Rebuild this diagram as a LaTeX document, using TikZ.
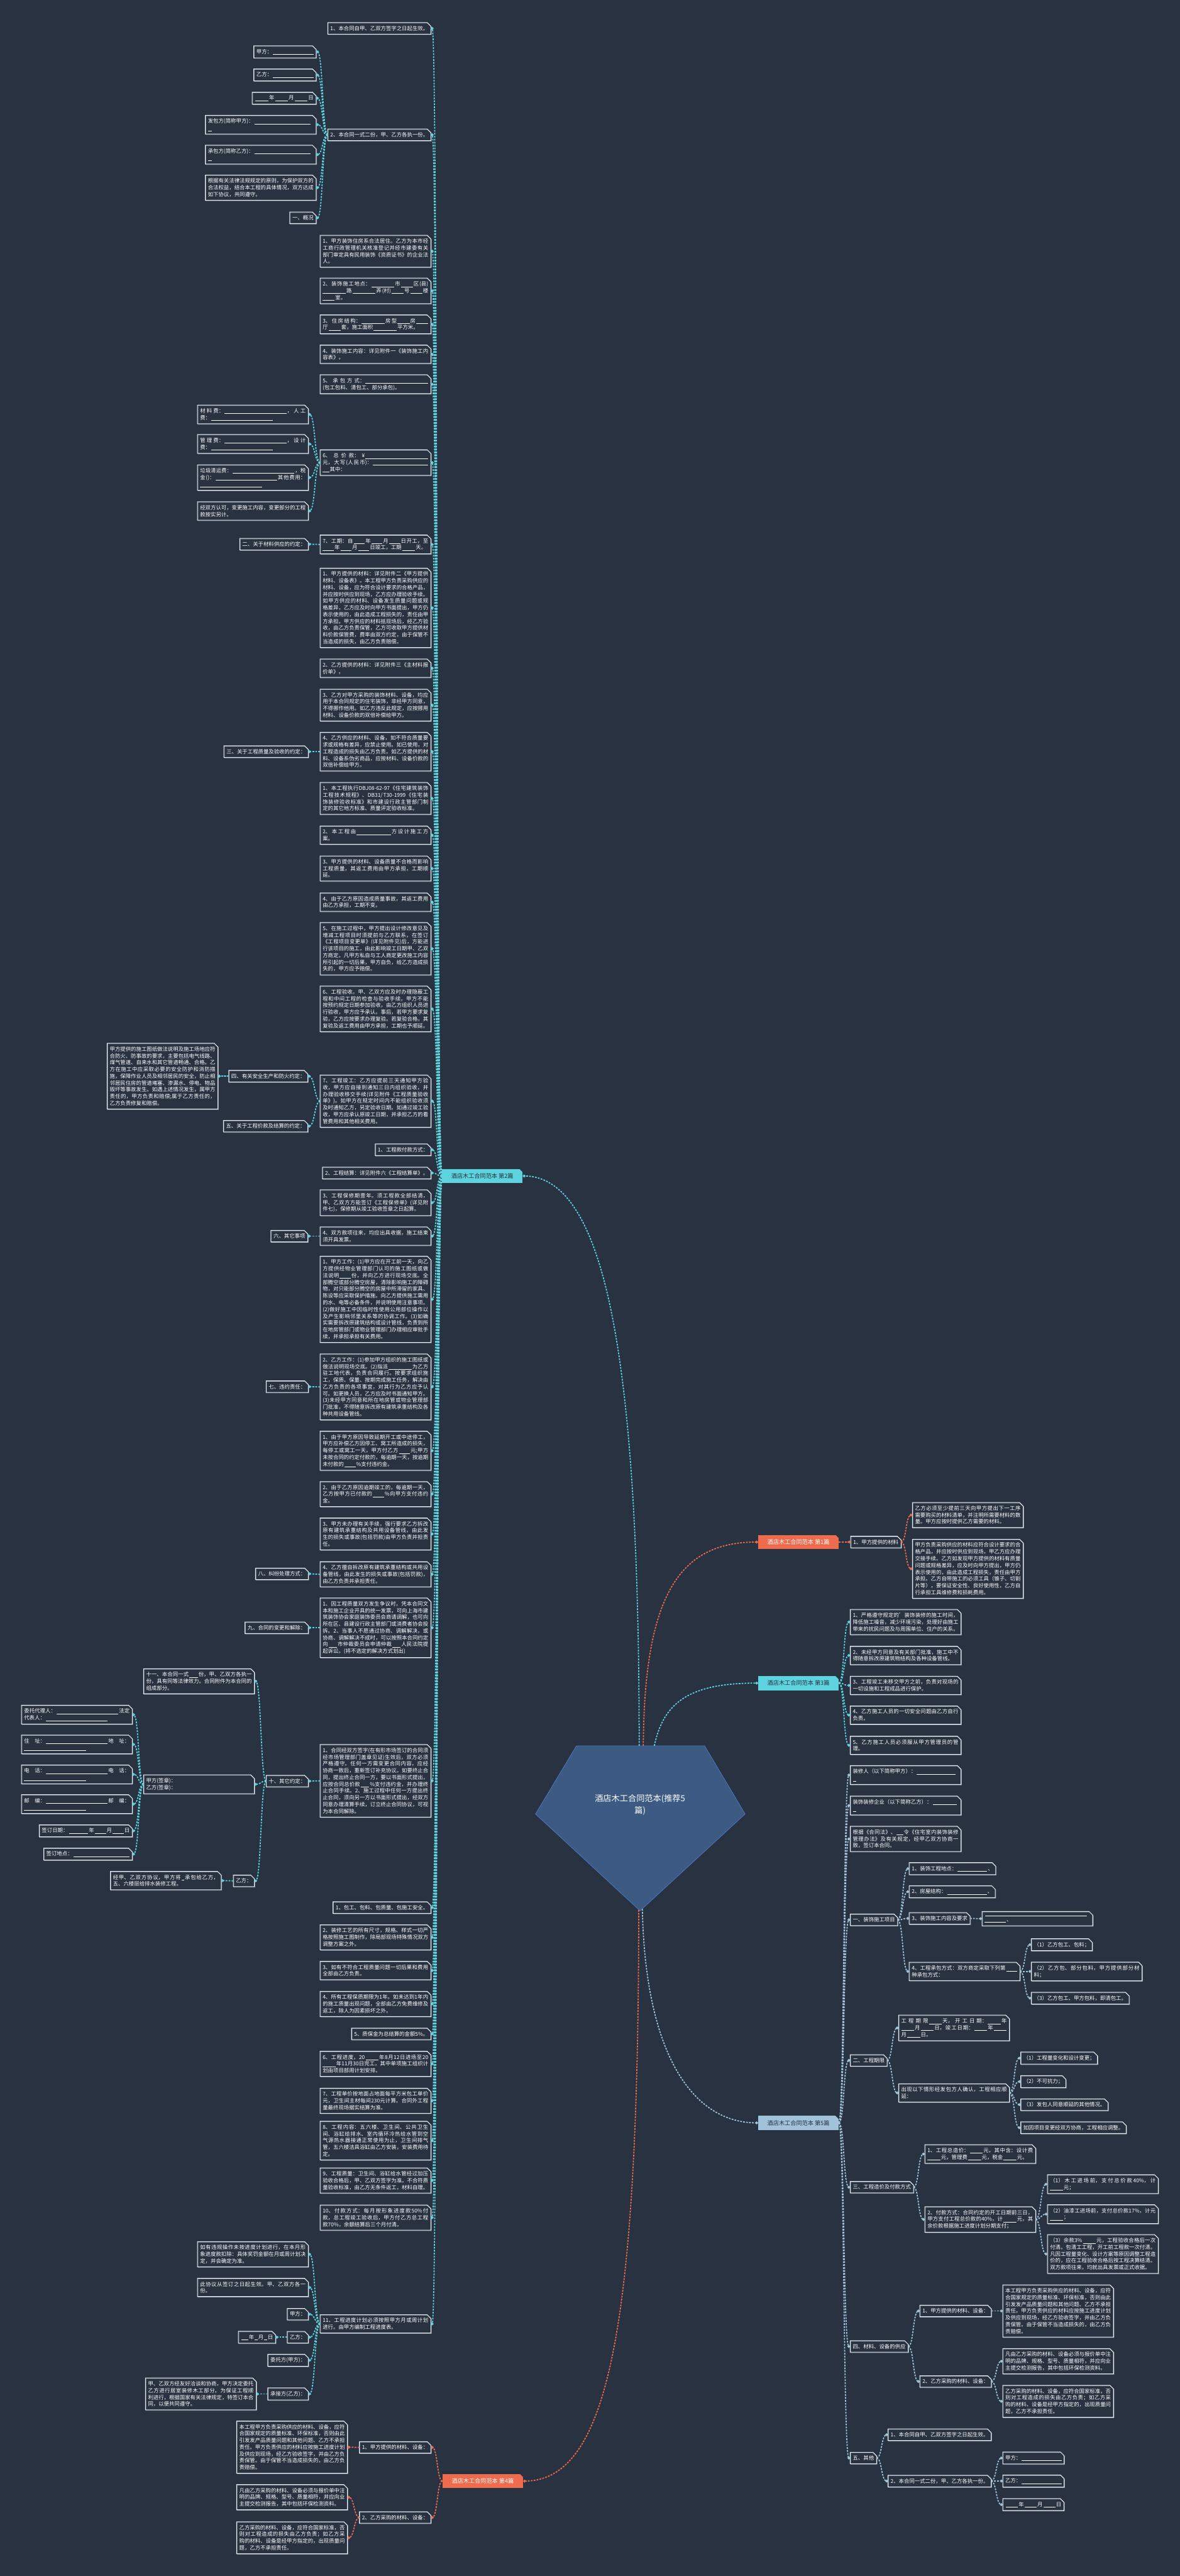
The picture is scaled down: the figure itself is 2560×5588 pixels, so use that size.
\documentclass[tikz,border=0pt]{standalone}
\usepackage{fontspec}
\setmainfont{Noto Sans CJK SC}
\XeTeXlinebreaklocale "zh"
\XeTeXlinebreakskip=0pt plus 1pt
\definecolor{bgc}{HTML}{283240}
\definecolor{cy}{HTML}{5CD3DF}
\definecolor{rd}{HTML}{EF6B4D}
\definecolor{lb}{HTML}{A0C3DA}
\definecolor{bd}{HTML}{E6EBF0}
\definecolor{sh}{HTML}{7A8593}
\definecolor{lt}{HTML}{26303C}
\definecolor{pf}{HTML}{3D5A82}
\definecolor{pb}{HTML}{4A78C8}
\newcommand\fs{\fontsize{11.45pt}{14.7pt}\selectfont}
\newcommand\bk[1]{\hspace{1.5pt}\rule[-2pt]{#1pt}{0.6pt}\hspace{1.5pt}}
\newcommand\bx[4]{%
\node[box,#2] (#1) at (#3) {#4};%
\draw[sh,line width=1.1pt,transform canvas={shift={(1.1pt,-1.1pt)}}] (#1.south west) -- (#1.north west) -- ([xshift=-8pt]#1.north east) -- ([yshift=-8pt]#1.north east) -- (#1.south east) -- cycle;%
\draw[bd,line width=1.4pt] (#1.south west) -- (#1.north west) -- ([xshift=-8pt]#1.north east) -- ([yshift=-8pt]#1.north east) -- (#1.south east) -- cycle;}
\newcommand\cc[1]{\fill[bgc] ([shift={(0.6pt,0.6pt)}]#1.north east) -- ([xshift=-8pt,yshift=0.6pt]#1.north east) -- ([xshift=0.6pt,yshift=-8pt]#1.north east) -- cycle;}
\newcommand\dm[2]{\fill[#1] (#2) ++(-3.4,0) -- ++(3.4,3.4) -- ++(3.4,-3.4) -- ++(-3.4,-3.4) -- cycle;}
\newcommand\lkL[3]{\draw[con,#1] (#2.west) .. controls +(-12,0) and +(12,0) .. ([xshift=3pt]#3.east); \dm{#1}{[xshift=3pt]#3.east}}
\newcommand\lkR[3]{\draw[con,#1] (#2.east) .. controls +(12,0) and +(-12,0) .. ([xshift=-3pt]#3.west); \dm{#1}{[xshift=-3pt]#3.west}}
\tikzset{
 box/.style={fill=bgc, text=white, font=\fs, inner xsep=5.5pt, inner ysep=7pt},
 wd/.style={text width=229pt, align=justify},
 le/.style={anchor=east},
 ri/.style={anchor=west},
 con/.style={dash pattern=on 3.8pt off 2.6pt, line width=2.4pt},
 lab/.style={anchor=west, font=\fontsize{12.5pt}{14pt}\selectfont, minimum width=175pt, minimum height=31pt, inner sep=3pt},
}
\begin{document}
\begin{tikzpicture}[x=1pt,y=-1pt]
\fill[bgc] (0,0) rectangle (2560,5588);
\useasboundingbox (0,0) rectangle (2560,5588);
% ---------- centre ----------
\coordinate (pTL) at (1251,3787);
\coordinate (pTR) at (1529,3787);
\coordinate (pR) at (1617,3935);
\coordinate (pB) at (1389,4145);
\coordinate (pL) at (1162,3935);
\draw[fill=pf, draw=pb, line width=1pt] (pTL) -- (pTR) -- (pR) -- (pB) -- (pL) -- cycle;
\node[font=\fontsize{18pt}{26pt}\selectfont, text=white, align=center] (ctr) at (1389,3915) {酒店木工合同范本(推荐5\\篇)};
\coordinate (s2) at (1387,3787);
\coordinate (s1) at (1396,3787);
\coordinate (s3) at (1420,3787);
\coordinate (s4) at (1386,4143);
\coordinate (s5) at (1394,4141);
% ---------- labels ----------
\node[lab,fill=cy,text=lt] (L2) at (959,2551) {酒店木工合同范本 第2篇}; \cc{L2}
\node[lab,fill=rd,text=white] (L1) at (1645,3345) {酒店木工合同范本 第1篇}; \cc{L1}
\node[lab,fill=cy,text=lt] (L3) at (1645,3651) {酒店木工合同范本 第3篇}; \cc{L3}
\node[lab,fill=rd,text=white] (L4) at (960,5382) {酒店木工合同范本 第4篇}; \cc{L4}
\node[lab,fill=lb,text=lt] (L5) at (1645,4605) {酒店木工合同范本 第5篇}; \cc{L5}
\draw[con,cy] (s2) .. controls (1387,2980) and (1320,2551) .. ([xshift=3pt]L2.east); \dm{cy}{[xshift=3pt]L2.east}
\draw[con,rd] (s1) .. controls (1398,3450) and (1480,3345) .. ([xshift=-3pt]L1.west); \dm{rd}{[xshift=-3pt]L1.west}
\draw[con,cy] (s3) .. controls (1440,3690) and (1500,3651) .. ([xshift=-3pt]L3.west); \dm{cy}{[xshift=-3pt]L3.west}
\draw[con,rd] (s4) .. controls (1386,5050) and (1320,5382) .. ([xshift=3pt]L4.east); \dm{rd}{[xshift=3pt]L4.east}
\draw[con,lb] (s5) .. controls (1400,4450) and (1500,4605) .. ([xshift=-3pt]L5.west); \dm{lb}{[xshift=-3pt]L5.west}
% ---------- 第2篇 first level ----------
\bx{a1}{le}{935,61.5}{1、本合同自甲、乙双方签字之日起生效。}
\bx{a2}{le}{935,292.5}{2、本合同一式二份，甲、乙方各执一份。}
\bx{a3}{le,wd}{935,545}{1、甲方装饰住房系合法居住。乙方为本市经工商行政管理机关核准登记并经市建委有关部门审定具有民用装饰《资质证书》的企业法人。}
\bx{a4}{le,wd}{935,631}{2、装饰施工地点：\bk{50}市\bk{26}区(县)\bk{50}路\bk{50}弄(村)\bk{26}号\bk{26}楼\bk{26}室。}
\bx{a5}{le,wd}{935,703.5}{3、住房结构：\bk{50}房型\bk{26}房\bk{26}厅\bk{26}套，施工面积\bk{50}平方米。}
\bx{a6}{le,wd}{935,768.5}{4、装饰施工内容：详见附件一《装饰施工内容表》。}
\bx{a7}{le,wd}{935,833.5}{5、承包方式：\bk{136}(包工包料、清包工、部分承包)。}
\bx{a8}{le,wd}{935,1003.5}{6、总价款：¥\bk{136}元，大写(人民币)：\bk{120}\bk{14}其中：}
\bx{a9}{le,wd}{935,1181}{7、工期：自\bk{24}年\bk{24}月\bk{24}日开工，至\bk{24}年\bk{24}月\bk{24}日竣工，工期\bk{28}天。}
\bx{a10}{le,wd}{935,1318.5}{1、甲方提供的材料：详见附件二《甲方提供材料、设备表》。本工程甲方负责采购供应的材料、设备，应为符合设计要求的合格产品，并应按时供应到现场，乙方应办理验收手续。如甲方供应的材料、设备发生质量问题或规格差异，乙方应及时向甲方书面提出，甲方仍表示使用的，由此造成工程损失的，责任由甲方承担。甲方供应的材料抵现场后，经乙方验收，由乙方负责保管，乙方可收取甲方提供材料价款保管费，费率由双方约定，由于保管不当造成的损失，由乙方负责赔偿。}
\bx{a11}{le,wd}{935,1449.5}{2、乙方提供的材料：详见附件三《主材料报价单》。}
\bx{a12}{le,wd}{935,1529.5}{3、乙方对甲方采购的装饰材料、设备，均应用于本合同规定的住宅装饰，非经甲方同意，不得挪作他用。如乙方违反此规定，应按挪用材料、设备价款的双倍补偿给甲方。}
\bx{a13}{le,wd}{935,1630.5}{4、乙方供应的材料、设备，如不符合质量要求或规格有差异，应禁止使用。如已使用，对工程造成的损失由乙方负责。如乙方提供的材料、设备系伪劣商品，应按材料、设备价款的双倍补偿给甲方。}
\bx{a14}{le,wd}{935,1732}{1、本工程执行DBJ08-62-97《住宅建筑装饰工程技术规程》、DB31/T30-1999《住宅装饰装修验收标准》和市建设行政主管部门制定的其它地方标准、质量评定验收标准。}
\bx{a15}{le,wd}{935,1811.5}{2、本工程由\bk{74}方设计施工方案。}
\bx{a16}{le,wd}{935,1884}{3、甲方提供的材料、设备质量不合格而影响工程质量，其返工费用由甲方承担，工期顺延。}
\bx{a17}{le,wd}{935,1957}{4、由于乙方原因造成质量事故，其返工费用由乙方承担，工期不变。}
\bx{a18}{le,wd}{935,2058}{5、在施工过程中，甲方提出设计修改意见及增减工程项目时须提前与乙方联系，在签订《工程项目变更单》(详见附件见)后，方能进行该项目的施工，由此影响竣工日期甲、乙双方商定。凡甲方私自与工人商定更改施工内容所引起的一切后果，甲方自负，给乙方造成损失的，甲方应予赔偿。}
\bx{a19}{le,wd}{935,2188.5}{6、工程验收。甲、乙双方应及时办理隐蔽工程和中间工程的检查与验收手续，甲方不能按预约规定日期参加验收，由乙方组织人员进行验收，甲方应予承认。事后，若甲方要求复验，乙方应按要求办理复验。若复验合格，其复验及返工费用由甲方承担，工期也予顺延。}
\bx{a20}{le,wd}{935,2388.5}{7、工程竣工：乙方应提前三天通知甲方验收，甲方应自接到通知三日内组织验收，并办理验收移交手续(详见附件《工程质量验收单》)。如甲方在规定时间内不能组织验收须及时通知乙方，另定验收日期。如通过竣工验收，甲方应承认原竣工日期，并承担乙方的看管费用和其他相关费用。}
\bx{a21}{le}{935,2494}{1、工程款付款方式：}
\bx{a22}{le}{935,2544.5}{2、工程结算：详见附件六《工程结算单》。}
\bx{a23}{le,wd}{935,2609}{3、工程保修期壹年。须工程款全部结清，甲、乙双方方能签订《工程保修单》(详见附件七)，保修期从竣工验收签章之日起算。}
\bx{a24}{le,wd}{935,2681.5}{4、双方款项往来，均应出具收据，施工结束须开具发票。}
\bx{a25}{le,wd}{935,2818.5}{1、甲方工作：(1)甲方应在开工前一天，向乙方提供经物业管理部门认可的施工图纸或做法说明\bk{24}份，并向乙方进行现场交底。全部腾空或部分腾空房屋，清除影响施工的障碍物，对只能部分腾空的房屋中所滞留的家具、陈设等应采取保护措施。向乙方提供施工需用的水、电等必备条件，并说明使用注意事项。(2)做好施工中因临时性使用公用部位操作以及产生影响邻里关系等的协调工作。(3)如确实需要拆改原建筑结构或设计管线，负责到所在地房管部门或物业管理部门办理相应审批手续，并承担承担有关费用。}
\bx{a26}{le,wd}{935,3008.5}{2、乙方工作：(1)参加甲方组织的施工图纸或做法说明现场交底。(2)指派\bk{50}为乙方驻工地代表，负责合同履行。按要求组织施工，保质、保量、按期完成施工任务，解决由乙方负责的各项事宜，对其行为乙方应予认可。如更换人员，乙方应及时书面通知甲方。(3)未经甲方同意和所在地房管或物业管理部门批准，不得随意拆改原有建筑承重结构及各种共用设备管线。}
\bx{a27}{le,wd}{935,3147}{1、由于甲方原因导致延期开工或中途停工，甲方应补偿乙方因停工、窝工所造成的损失，每停工或窝工一天，甲方付乙方\bk{24}元;甲方未按合同的约定付款的，每逾期一天，按逾期未付款的\bk{24}\%支付违约金。}
\bx{a28}{le,wd}{935,3241}{2、由于乙方原因逾期竣工的，每逾期一天，乙方按甲方已付款的\bk{24}\%向甲方支付违约金。}
\bx{a29}{le,wd}{935,3327.5}{3、甲方未办理有关手续，强行要求乙方拆改原有建筑承重结构及共用设备管线，由此发生的损失或事故(包括罚款)由甲方负责并担责任。}
\bx{a30}{le,wd}{935,3415}{4、乙方擅自拆改原有建筑承重结构或共用设备管线，由此发生的损失或事故(包括罚款)，由乙方负责并承担责任。}
\bx{a31}{le,wd}{935,3531}{1、因工程质量双方发生争议时，凭本合同文本和施工企业开具的统一发票，可向上海市建筑装饰协会家庭装饰委员会商请调解，也可向所在区、县建设行政主管部门或消费者协会投拆。2、当事人不愿通过协商、调解解决，或协商、调解解决不成时，可以按照本合同约定向\bk{18}市仲裁委员会申请仲裁\bk{18}人民法院提起诉讼。(将不选定的解决方式划出)}
\bx{a32}{le,wd}{935,3863}{1、合同经双方签字(在有形市场签订的合同须经市场管理部门盖章见证)生效后，双方必须严格遵守。任何一方需变更合同内容，应经协商一致后，重新签订补充协议。如要终止合同，提出终止合同一方，要以书面形式提出，应按合同总价款\bk{18}\%支付违约金，并办理终止合同手续。2、施工过程中任何一方提出终止合同，须向另一方以书面形式提出，经双方同意办理清算手续，订立终止合同协议，可视为本合同解除。}
\bx{a33}{le}{935,4138}{1、包工、包料、包质量、包施工安全。}
\bx{a34}{le,wd}{935,4202.5}{2、装修工艺的所有尺寸，规格、样式一切严格按照施工图制作，除局部现场特殊情况双方调整方案之外。}
\bx{a35}{le,wd}{935,4274.5}{3、如有不符合工程质量问题一切后果和费用全部由乙方负责。}
\bx{a36}{le,wd}{935,4347}{4、所有工程保质期限为1年。如未达到1年内的施工质量出现问题，全部由乙方免费维修及返工，除人为因素损坏之外。}
\bx{a37}{le}{935,4412}{5、质保金为总结算的金额5\%。}
\bx{a38}{le,wd}{935,4477}{6、工程进度，20\bk{28}年8月12日进场至20\bk{28}年11月30日完工，其中单项施工组织计划由项目部周计划安排。}
\bx{a39}{le,wd}{935,4557}{7、工程单价按地面占地面每平方米包工单价元，卫生间主材每间230元计算。合同外工程量最终现场据实结算为准。}
\bx{a40}{le,wd}{935,4643.5}{8、工程内容：五六楼、卫生间、公共卫生间、浴缸给排水、室内循环冷热给水管到空气源热水器接通正常使用为止，卫生间排气管，五六楼洁具浴缸由乙方安装，安装费用待定。}
\bx{a41}{le,wd}{935,4730}{9、工程质量：卫生间、浴缸给水管经过加压验收合格后，甲、乙双方签字为准。不合符质量验收标准，由乙方无条件返工，材料自理。}
\bx{a42}{le,wd}{935,4810.5}{10、付款方式：每月按形象进度款50\%付款，总工程竣工验收后，甲方付乙方总工程款70\%，余额结算后三个月付清。}
\bx{a43}{le,wd}{935,5041}{11、工程进度计划必须按照甲方月或周计划进行。由甲方编制工程进度表。}
\foreach \i in {1,...,43} {\lkL{cy}{L2}{a\i}}
% ---------- 第2篇 deeper ----------
\bx{k1}{le}{686,112.5}{甲方：\bk{88}}
\bx{k2}{le}{686,162.5}{乙方：\bk{88}}
\bx{k3}{le}{686,213}{\bk{28}年\bk{28}月\bk{28}日}
\bx{k4}{le,wd}{686,270.5}{发包方(简称甲方)：\bk{122}\\\bk{9}}
\bx{k5}{le,wd}{686,335.5}{承包方(简称乙方)：\bk{122}\\\bk{9}}
\bx{k6}{le,wd}{686,407}{根据有关法律法规规定的原则，为保护双方的合法权益，结合本工程的具体情况，双方达成如下协议，共同遵守。}
\bx{k7}{le}{686,472.5}{一、概况}
\foreach \i in {1,...,7} {\lkL{cy}{a2}{k\i}}
\bx{h1}{le,wd}{669,899}{材料费：\bk{134}，人工费：\bk{134}}
\bx{h2}{le,wd}{669,963}{管理费：\bk{134}，设计费：\bk{134}}
\bx{h3}{le,wd}{669,1036}{垃圾清运费：\bk{134}，税金()：\bk{134}其他费用：\bk{134}}
\bx{h4}{le,wd}{669,1108.5}{经双方认可，变更施工内容，变更部分的工程款按实另计。}
\foreach \i in {1,...,4} {\lkL{cy}{a8}{h\i}}
\bx{g1}{le}{669,1180.5}{二、关于材料供应的约定：}
\lkL{cy}{a9}{g1}
\bx{q1}{le}{669,1630.5}{三、关于工程质量及验收的约定：}
\lkL{cy}{a13}{q1}
\bx{m1}{le}{668,2334.5}{四、有关安全生产和防火约定：}
\bx{m2}{le}{668,2443}{五、关于工程价款及结算的约定：}
\lkL{cy}{a20}{m1}
\lkL{cy}{a20}{m2}
\bx{m1a}{le,wd}{473,2334.5}{甲方提供的施工图纸做法说明及施工场地应符合防火、防事故的要求，主要包括电气线路、煤气管道、自来水和其它管道畅通、合格。乙方在施工中应采取必要的安全防护和消防措施，保障作业人员及相邻居民的安全，防止相邻居民住房的管道堵塞、渗漏水、停电、物品毁坏等事故发生。如遇上述情况发生，属甲方责任的，甲方负责和赔偿;属于乙方责任的，乙方负责修复和赔偿。}
\lkL{cy}{m1}{m1a}
\bx{s1n}{le}{668,2681.5}{六、其它事项}
\lkL{cy}{a24}{s1n}
\bx{v1}{le}{669,3008}{七、违约责任：}
\lkL{cy}{a26}{v1}
\bx{j1}{le}{669,3414}{八、纠纷处理方式：}
\lkL{cy}{a30}{j1}
\bx{n1}{le}{669,3531}{九、合同的变更和解除：}
\lkL{cy}{a31}{n1}
\bx{t1}{le}{669,3863.5}{十、其它约定：}
\lkL{cy}{a32}{t1}
\bx{t2}{le,wd}{552,3647}{十一、本合同一式\bk{18}份，甲、乙双方各执一份，具有同等法律效力。合同附件为本合同的组成部分。}
\bx{t3}{le,wd}{552,3870.5}{甲方(签章)：\\乙方(签章)：}
\bx{t4}{le}{552,4080}{乙方：}
\lkL{cy}{t1}{t2}
\lkL{cy}{t1}{t3}
\lkL{cy}{t1}{t4}
\bx{w1}{le,wd}{287,3719.5}{委托代理人：\bk{134}法定代表人：\bk{134}}
\bx{w2}{le,wd}{287,3784}{住址：\bk{134}地址：\bk{134}}
\bx{w3}{le,wd}{287,3849}{电话：\bk{134}电话：\bk{134}}
\bx{w4}{le,wd}{287,3913.5}{邮编：\bk{134}邮编：\bk{134}}
\bx{w5}{le}{287,3971.5}{签订日期：\bk{42}年\bk{24}月\bk{24}日}
\bx{w6}{le}{287,4022}{签订地点：\bk{122}}
\foreach \i in {1,...,6} {\lkL{cy}{t3}{w\i}}
\bx{t4a}{le,wd}{480,4079.5}{经甲、乙双方协议，甲方将\bk{6}承包给乙方，五、六楼层给排水装修工程。}
\lkL{cy}{t4}{t4a}
\bx{z1}{le,wd}{669,4890}{如有违规操作未按进度计划进行，在本月形象进度款扣除：具体奖罚金额在月或周计划决定，并会确定为准。}
\bx{z2}{le,wd}{669,4962}{此协议从签订之日起生效。甲、乙双方各一份。}
\bx{z3}{le}{669,5020}{甲方：}
\bx{z4}{le}{669,5070}{乙方：}
\bx{z5}{le}{669,5120}{委托方(甲方)：}
\bx{z6}{le}{669,5193}{承接方(乙方)：}
\foreach \i in {1,...,6} {\lkL{cy}{a43}{z\i}}
\bx{z4a}{le}{598,5070}{\bk{14}年\bk{6}月\bk{6}日}
\lkL{cy}{z4}{z4a}
\bx{z6a}{le,wd}{556,5193}{甲、乙双方经友好洽谈和协商，甲方决定委托乙方进行居室装修木工部分。为保证工程顺利进行，根据国家有关法律规定，特签订本合同，以便共同遵守。}
\lkL{cy}{z6}{z6a}
% ---------- 第4篇 ----------
\bx{d1}{le}{935,5309}{1、甲方提供的材料、设备：}
\bx{d2}{le}{935,5461}{2、乙方采购的材料、设备：}
\lkL{rd}{L4}{d1}
\lkL{rd}{L4}{d2}
\bx{d1a}{le,wd}{754,5308.5}{本工程甲方负责采购供应的材料、设备，应符合国家规定的质量标准、环保标准，否则由此引发发产品质量问题和其他问题、乙方不承担责任。甲方负责供应的材料应按施工进度计划及供应到现场，经乙方验收签字，并由乙方负责保管。由于保管不当造成损失的，由乙方负责赔偿。}
\lkL{rd}{d1}{d1a}
\bx{d2a}{le,wd}{754,5417}{凡由乙方采购的材料、设备必须与报价单中注明的品牌、规格、型号、质量相符，并应向业主提交检测报告，其中包括环保检测资料。}
\bx{d2b}{le,wd}{754,5505}{乙方采购的材料、设备，应符合国家标准，否则对工程造成的损失由乙方负责；如乙方采购的材料、设备是经甲方指定的，出现质量问题，乙方不承担责任。}
\lkL{rd}{d2}{d2a}
\lkL{rd}{d2}{d2b}
% ---------- 第1篇 ----------
\bx{r1}{ri}{1846,3345}{1、甲方提供的材料}
\lkR{rd}{L1}{r1}
\bx{r1a}{ri,wd}{1980,3286.5}{乙方必须至少提前三天向甲方提出下一工序需要购买的材料清单，并注明所需要材料的数量。甲方应按时提供乙方需要的材料。}
\bx{r1b}{ri,wd}{1980,3403}{甲方负责采购供应的材料应符合设计要求的合格产品，并应按时供应到现场，甲乙方应办理交接手续。乙方如发现甲方提供的材料有质量问题或规格差异，应及时向甲方提出，甲方仍表示使用的，由此造成工程损失，责任由甲方承担。乙方自带施工的必须工具（锥子、切割片等），要保证安全性、良好使用性，乙方自行承担工具维修费和损耗费用。}
\lkR{rd}{r1}{r1a}
\lkR{rd}{r1}{r1b}
% ---------- 第3篇 ----------
\bx{e1}{ri,wd}{1845,3518.5}{1、严格遵守规定的'装饰装修的施工时间，降低施工噪音，减少环境污染，处理好由施工带来的扰民问题及与周围单位、住户的关系。}
\bx{e2}{ri,wd}{1845,3591}{2、未经甲方同意及有关部门批准，施工中不得随意拆改原建筑物结构及各种设备管线。}
\bx{e3}{ri,wd}{1845,3656}{3、工程竣工未移交甲方之前，负责对现场的一切设施和工程成品进行保护。}
\bx{e4}{ri,wd}{1845,3720.5}{4、乙方施工人员的一切安全问题由乙方自行负责。}
\bx{e5}{ri,wd}{1845,3786}{5、乙方施工人员必须服从甲方管理员的管理。}
\foreach \i in {1,...,5} {\lkR{cy}{L3}{e\i}}
% ---------- 第5篇 ----------
\bx{f1}{ri,wd}{1845,3850.5}{装修人（以下简称甲方）：\bk{84}\\\bk{8}}
\bx{f2}{ri,wd}{1845,3916.5}{装饰装修企业（以下简称乙方）：\bk{52}\\\bk{8}}
\bx{f3}{ri,wd}{1845,3989}{根据《合同法》、\bk{14}令《住宅室内装饰装修管理办法》及有关规定，经甲乙双方协商一致，签订本合同。}
\bx{f4}{ri}{1845,4164.5}{一、装饰施工项目}
\bx{f5}{ri}{1845,4469.5}{二、工程期限}
\bx{f6}{ri}{1845,4744.5}{三、工程造价及付款方式}
\bx{f7}{ri}{1845,5090}{四、材料、设备的供应}
\bx{f8}{ri}{1845,5332}{五、其他}
\foreach \i in {1,...,8} {\lkR{lb}{L5}{f\i}}
\bx{f4a}{ri}{1973,4053.5}{1、装饰工程地点：\bk{64}、}
\bx{f4b}{ri}{1973,4103.5}{2、房屋结构：\bk{86}、}
\bx{f4c}{ri}{1973,4161.5}{3、装饰施工内容及要求}
\bx{f4d}{ri,wd}{1973,4276.5}{4、工程承包方式：双方商定采取下列第\bk{24}种承包方式：}
\lkR{lb}{f4}{f4a}
\lkR{lb}{f4}{f4b}
\lkR{lb}{f4}{f4c}
\lkR{lb}{f4}{f4d}
\bx{f4c1}{ri,wd}{2131,4162}{\bk{220}\\\bk{46}、}
\lkR{lb}{f4c}{f4c1}
\bx{p1}{ri}{2238,4218.5}{（1）乙方包工、包料；}
\bx{p2}{ri,wd}{2238,4276.5}{（2）乙方包、部分包料，甲方提供部分材料；}
\bx{p3}{ri}{2238,4334.5}{（3）乙方包工、甲方包料，即清包工。}
\foreach \i in {1,2,3} {\lkR{lb}{f4d}{p\i}}
\bx{f5a}{ri,wd}{1950,4399}{工程期限\bk{28}天，开工日期：\bk{28}年\bk{28}月\bk{28}日，竣工日期：\bk{28}年\bk{28}月\bk{28}日。}
\bx{f5b}{ri,wd}{1950,4540}{出现以下情形经发包方人确认，工程相应顺延：}
\lkR{lb}{f5}{f5a}
\lkR{lb}{f5}{f5b}
\bx{o1}{ri}{2215,4464.5}{（1）工程量变化和设计变更；}
\bx{o2}{ri}{2215,4515.5}{（2）不可抗力；}
\bx{o3}{ri}{2215,4565.5}{（3）发包人同意顺延的其他情况。}
\bx{o4}{ri}{2215,4615.5}{如因项目变更经双方协商，工程相应调整。}
\foreach \i in {1,...,4} {\lkR{lb}{f5b}{o\i}}
\bx{f6a}{ri,wd}{2007,4672.5}{1、工程总造价：\bk{28}元，其中含：设计费\bk{28}元，管理费\bk{28}元，税金\bk{28}元。}
\bx{f6b}{ri,wd}{2007,4814.5}{2、付款方式：合同约定的开工日期前三日，甲方支付工程总价款的40\%，计\bk{28}元，其余价款根据施工进度计划分期支付；}
\lkR{lb}{f6}{f6a}
\lkR{lb}{f6}{f6b}
\bx{u1}{ri,wd}{2273,4738}{（1）木工进场前，支付总价款40\%，计\bk{28}元；}
\bx{u2}{ri,wd}{2273,4803}{（2）油漆工进场前，支付总价款17\%，计元\bk{28}；}
\bx{u3}{ri,wd}{2273,4889.5}{（3）余款3\%\bk{28}元，工程验收合格后一次付清。包清工工程，开工前工程款一次付清。凡因工程量变化、设计方案等原因调整工程造价的，应在工程验收合格后按工程决算结清。双方款项往来，均就出具发票或正式收据。}
\foreach \i in {1,2,3} {\lkR{lb}{f6b}{u\i}}
\bx{f7a}{ri}{1996,5013}{1、甲方提供的材料、设备：}
\bx{f7b}{ri}{1996,5166}{2、乙方采购的材料、设备：}
\lkR{lb}{f7}{f7a}
\lkR{lb}{f7}{f7b}
\bx{f7a1}{ri,wd}{2176,5013}{本工程甲方负责采购供应的材料、设备，应符合国家规定的质量标准、环保标准，否则由此引发发产品质量问题和其他问题、乙方不承担责任。甲方负责供应的材料应按施工进度计划及供应到现场，经乙方验收签字，并由乙方负责保管。由于保管不当造成损失的，由乙方负责赔偿。}
\lkR{lb}{f7a}{f7a1}
\bx{f7b1}{ri,wd}{2176,5122}{凡由乙方采购的材料、设备必须与报价单中注明的品牌、规格、型号、质量相符，并应向业主提交检测报告，其中包括环保检测资料。}
\bx{f7b2}{ri,wd}{2176,5209}{乙方采购的材料、设备，应符合国家标准，否则对工程造成的损失由乙方负责；如乙方采购的材料、设备是经甲方指定的，出现质量问题，乙方不承担责任。}
\lkR{lb}{f7b}{f7b1}
\lkR{lb}{f7b}{f7b2}
\bx{f8a}{ri}{1927,5281.5}{1、本合同自甲、乙双方签字之日起生效。}
\bx{f8b}{ri}{1927,5382}{2、本合同一式二份，甲、乙方各执一份。}
\lkR{lb}{f8}{f8a}
\lkR{lb}{f8}{f8b}
\bx{y1}{ri}{2176,5332}{甲方：\bk{86}}
\bx{y2}{ri}{2176,5382}{乙方：\bk{86}}
\bx{y3}{ri}{2176,5433}{\bk{26}年\bk{26}月\bk{26}日}
\foreach \i in {1,2,3} {\lkR{lb}{f8b}{y\i}}
\end{tikzpicture}
\end{document}
